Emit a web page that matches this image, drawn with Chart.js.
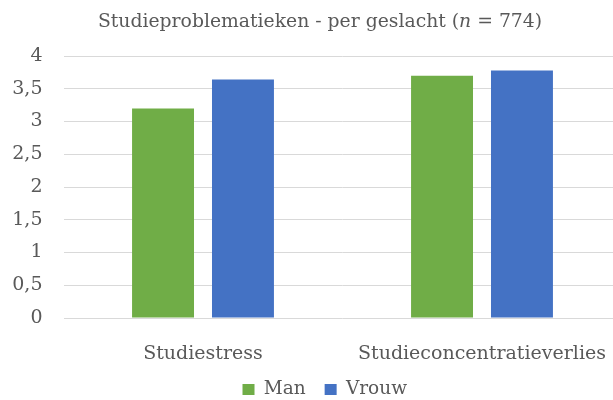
<!DOCTYPE html>
<html>
<head>
    <title>Studieproblematieken - per geslacht</title>
    <script src="https://cdn.jsdelivr.net/npm/chart.js"></script>
    <style>
        html, body { margin: 0; padding: 0; overflow: hidden; background: #fff; }
        #wrap { position: relative; width: 646px; height: 400px; }
        #title {
            position: absolute; left: 0; top: 11px; width: 640px;
            text-align: center; font-family: "DejaVu Serif"; font-size: 18.8px;
            line-height: 19px; color: #595959; white-space: nowrap;
        }
        #myChart { position: absolute; left: 0; top: 0; }
    </style>
</head>
<body>
    <div id="wrap">
        <canvas id="myChart" width="646" height="400"></canvas>
        <div id="title">Studieproblematieken - per geslacht (<i>n</i> = 774)</div>
    </div>
    <script>
        // Data
        const categories = ['Studiestress', 'Studieconcentratieverlies'];
        const seriesNames = ['Man', 'Vrouw'];
        const manValues = [3.2, 3.7];
        const vrouwValues = [3.64, 3.78];
        const seriesColors = ['#70AD47', '#4472C4'];

        const textColor = '#595959';
        const serif = 'DejaVu Serif';
        const legendSize = 18.5;

        // the original legend sits a little right of the canvas centre
        const legendShift = {
            id: 'legendShift',
            afterLayout(chart) {
                chart.legend.left += 14;
                chart.legend.right += 14;
            }
        };

        const ctx = document.getElementById('myChart').getContext('2d');
        new Chart(ctx, {
            type: 'bar',
            data: {
                labels: categories,
                datasets: [
                    { label: seriesNames[0], data: manValues, backgroundColor: seriesColors[0] },
                    { label: seriesNames[1], data: vrouwValues, backgroundColor: seriesColors[1] }
                ]
            },
            options: {
                responsive: false,
                animation: false,
                devicePixelRatio: 1,
                categoryPercentage: 0.573,
                barPercentage: 0.775,
                layout: {
                    // legend box = font + 2*padding + 10, pull it down a bit
                    padding: { top: 56, left: 0, right: 24.5, bottom: -8.75 }
                },
                scales: {
                    x: {
                        grid: { display: false },
                        border: { display: false },
                        ticks: {
                            color: textColor,
                            font: { family: serif, size: 19 },
                            padding: 16.6,
                            maxRotation: 0,
                            autoSkip: false
                        },
                        afterFit: (scale) => { scale.height = 43.25; }
                    },
                    y: {
                        min: 0,
                        max: 4,
                        grid: { color: '#D9D9D9', drawTicks: false },
                        border: { display: false },
                        ticks: {
                            stepSize: 0.5,
                            color: textColor,
                            font: { family: serif, size: 19 },
                            padding: 21,
                            callback: (v) => String(v).replace('.', ',')
                        },
                        afterFit: (scale) => { scale.width = 63.5; }
                    }
                },
                plugins: {
                    legend: {
                        position: 'bottom',
                        labels: {
                            color: textColor,
                            font: { family: serif, size: legendSize },
                            boxWidth: 12,
                            boxHeight: 11,
                            padding: 19
                        }
                    },
                    title: { display: false },
                    tooltip: { enabled: false }
                }
            },
            plugins: [legendShift]
        });
    </script>
</body>
</html>
